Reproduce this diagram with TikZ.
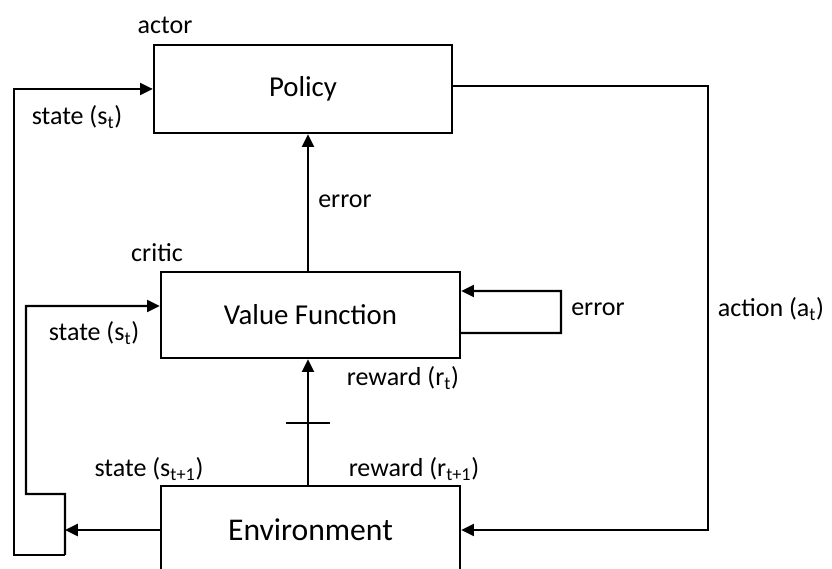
\documentclass[tikz,border=0pt]{standalone}
\usepackage{fontspec}
\setmainfont{Carlito}
\usetikzlibrary{arrows.meta}

\begin{document}
\begin{tikzpicture}
        \tikzstyle{block}=[rectangle, draw=black, line width=1.6pt, inner sep=0pt, font=\fontsize{20.5}{24}\selectfont]
        \tikzstyle{lbl}=[inner sep=1pt, font=\fontsize{18.5}{22}\selectfont]
        \tikzstyle{edge}=[black, line width=1.6pt, -{Triangle[length=0.32cm,width=0.3cm]}]

        \useasboundingbox (0,0) rectangle (20.8,14.225);
        \clip (0,0) rectangle (20.8,14.225);

        \node[block, minimum width=7.45cm, minimum height=2.2cm]   (policy) at (7.575,12.0)  {Policy};
        \node[block, minimum width=7.475cm, minimum height=2.15cm] (vf)     at (7.7625,6.35) {Value Function};
        \node[block, minimum width=7.475cm, minimum height=2.2cm, font=\fontsize{22.5}{26}\selectfont] (env) at (7.7625,0.975) {Environment};

        \coordinate (jtop) at (1.625,1.875);
        \coordinate (jbot) at (1.625,0.35);
        \coordinate (cturn) at (17.7,12.075);
        \coordinate (loop) at (14.025,5.9);
        \coordinate (tick) at (7.7,3.65);

        % state feedback
        \draw[edge] (jbot) -- (0.35,0.35) -- (0.35,12.0) -- (policy.west);
        \draw[edge] (jbot) -- (jtop) -- (0.65,1.875) -- (0.65,6.575) -- ([yshift=0.225cm]vf.west);
        \draw[edge] (env.west) -- (env.west -| jtop);

        % critic and actor
        \draw[edge] (env.north -| tick) -- (vf.south -| tick);
        \draw[line width=1.6pt] ([xshift=-0.55cm]tick) -- ([xshift=0.55cm]tick);
        \draw[edge] (vf.north -| tick) -- (policy.south -| tick);
        \draw[edge] ([yshift=-0.45cm]vf.east) -- (loop) -- (loop |- 0,6.95) -- ([yshift=0.6cm]vf.east);
        \draw[edge] (policy.east |- cturn) -- (cturn) -- (cturn |- env.east) -- (env.east);

        \node[lbl] (lactor)  at (4.125,13.6)  {actor};
        \node[lbl] (lstate1) at (1.925,11.3)  {state (s\textsubscript{t})};
        \node[lbl] (lcritic) at (3.925,7.9)   {critic};
        \node[lbl] (lstate2) at (2.35,5.9)    {state (s\textsubscript{t})};
        \node[lbl] (lerr1)   at (8.625,9.2)   {error};
        \node[lbl] (lerr2)   at (14.95,6.5)   {error};
        \node[lbl] (lrew1)   at (10.075,4.775) {reward (r\textsubscript{t})};
        \node[lbl] (lstate3) at (3.725,2.5)   {state (s\textsubscript{t+1})};
        \node[lbl] (lrew2)   at (10.35,2.5)   {reward (r\textsubscript{t+1})};
        \node[lbl] (lact)    at (19.275,6.5)  {action (a\textsubscript{t})};
    \end{tikzpicture}
\end{document}
